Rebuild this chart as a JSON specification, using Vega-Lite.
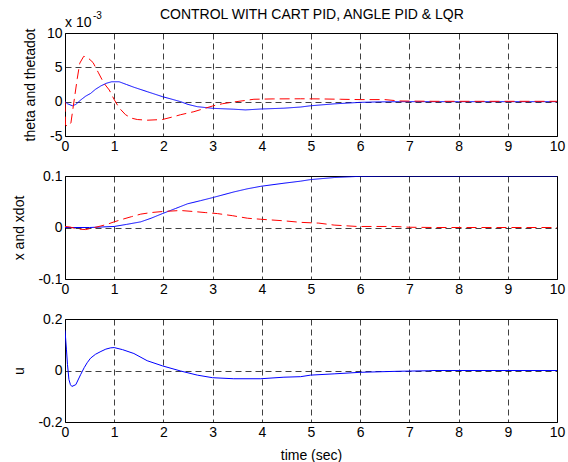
{
  "$schema": "https://vega.github.io/schema/vega-lite/v6.json",
  "background": "white",
  "padding": {"left": 12, "top": 8, "right": 5, "bottom": 2},
  "title": {"text": "CONTROL WITH CART PID, ANGLE PID & LQR", "font": "Liberation Sans", "fontSize": 14, "fontWeight": "normal", "color": "black", "anchor": "middle", "offset": -12, "dx": 23},
  "datasets": {
    "theta": [
      {"t":0,"series":"theta","value":0},{"t":0.05,"series":"theta","value":-0.0003},{"t":0.15,"series":"theta","value":-0.0006},{"t":0.22,"series":"theta","value":-0.0004},{"t":0.32,"series":"theta","value":0.00025},{"t":0.42,"series":"theta","value":0.0008},{"t":0.52,"series":"theta","value":0.0012},{"t":0.62,"series":"theta","value":0.0018},{"t":0.73,"series":"theta","value":0.0023},{"t":0.85,"series":"theta","value":0.0027},{"t":0.95,"series":"theta","value":0.0029},{"t":1.1,"series":"theta","value":0.0029},{"t":1.25,"series":"theta","value":0.0025},{"t":1.4,"series":"theta","value":0.0021},{"t":1.67,"series":"theta","value":0.00146},{"t":1.98,"series":"theta","value":0.00073},{"t":2.15,"series":"theta","value":0.0004},{"t":2.35,"series":"theta","value":0},{"t":2.5,"series":"theta","value":-0.0004},{"t":2.69,"series":"theta","value":-0.00073},{"t":3.0,"series":"theta","value":-0.00097},{"t":3.43,"series":"theta","value":-0.0011},{"t":3.67,"series":"theta","value":-0.0012},{"t":3.98,"series":"theta","value":-0.00107},{"t":4.45,"series":"theta","value":-0.00095},{"t":4.79,"series":"theta","value":-0.00078},{"t":4.99,"series":"theta","value":-0.0006},{"t":5.47,"series":"theta","value":-0.00032},{"t":6.0,"series":"theta","value":-0.0001},{"t":6.4,"series":"theta","value":-0.00003},{"t":6.8,"series":"theta","value":0},{"t":8,"series":"theta","value":0},{"t":10,"series":"theta","value":0},
      {"t":0,"series":"thetadot","value":0},{"t":0.01,"series":"thetadot","value":-0.0034},{"t":0.06,"series":"thetadot","value":-0.0036},{"t":0.12,"series":"thetadot","value":-0.0031},{"t":0.25,"series":"thetadot","value":0.0034},{"t":0.3,"series":"thetadot","value":0.0056},{"t":0.38,"series":"thetadot","value":0.0066},{"t":0.45,"series":"thetadot","value":0.0065},{"t":0.57,"series":"thetadot","value":0.0057},{"t":0.68,"series":"thetadot","value":0.0042},{"t":0.79,"series":"thetadot","value":0.0027},{"t":0.9,"series":"thetadot","value":0.0017},{"t":1.0,"series":"thetadot","value":0.0003},{"t":1.1,"series":"thetadot","value":-0.0009},{"t":1.23,"series":"thetadot","value":-0.0019},{"t":1.35,"series":"thetadot","value":-0.0024},{"t":1.47,"series":"thetadot","value":-0.0026},{"t":1.67,"series":"thetadot","value":-0.0027},{"t":1.98,"series":"thetadot","value":-0.0026},{"t":2.2,"series":"thetadot","value":-0.0022},{"t":2.35,"series":"thetadot","value":-0.0019},{"t":2.62,"series":"thetadot","value":-0.00146},{"t":3.0,"series":"thetadot","value":-0.00063},{"t":3.2,"series":"thetadot","value":-0.0003},{"t":3.43,"series":"thetadot","value":-0.00005},{"t":3.84,"series":"thetadot","value":0.00035},{"t":4.23,"series":"thetadot","value":0.0004},{"t":4.79,"series":"thetadot","value":0.00042},{"t":5.2,"series":"thetadot","value":0.0004},{"t":5.6,"series":"thetadot","value":0.00035},{"t":6.0,"series":"thetadot","value":0.0003},{"t":6.5,"series":"thetadot","value":0.0003},{"t":6.8,"series":"thetadot","value":0.0001},{"t":7.5,"series":"thetadot","value":0.00005},{"t":10,"series":"thetadot","value":0.00005}
    ],
    "x": [
      {"t":0,"series":"x","value":0},{"t":0.5,"series":"x","value":0},{"t":1.0,"series":"x","value":0.002},{"t":1.25,"series":"x","value":0.006},{"t":1.54,"series":"x","value":0.011},{"t":1.75,"series":"x","value":0.018},{"t":1.98,"series":"x","value":0.027},{"t":2.25,"series":"x","value":0.037},{"t":2.49,"series":"x","value":0.046},{"t":2.75,"series":"x","value":0.052},{"t":3.0,"series":"x","value":0.058},{"t":3.43,"series":"x","value":0.069},{"t":3.7,"series":"x","value":0.075},{"t":3.98,"series":"x","value":0.08},{"t":4.45,"series":"x","value":0.086},{"t":4.79,"series":"x","value":0.09},{"t":4.99,"series":"x","value":0.093},{"t":5.47,"series":"x","value":0.097},{"t":6.0,"series":"x","value":0.0994},{"t":6.5,"series":"x","value":0.0999},{"t":7,"series":"x","value":0.1},{"t":10,"series":"x","value":0.1},
      {"t":0,"series":"xdot","value":0.002},{"t":0.1,"series":"xdot","value":0.001},{"t":0.25,"series":"xdot","value":-0.003},{"t":0.42,"series":"xdot","value":-0.004},{"t":0.6,"series":"xdot","value":0},{"t":0.73,"series":"xdot","value":0.003},{"t":0.85,"series":"xdot","value":0.006},{"t":1.0,"series":"xdot","value":0.011},{"t":1.17,"series":"xdot","value":0.016},{"t":1.35,"series":"xdot","value":0.021},{"t":1.54,"series":"xdot","value":0.026},{"t":1.75,"series":"xdot","value":0.029},{"t":1.98,"series":"xdot","value":0.031},{"t":2.35,"series":"xdot","value":0.033},{"t":2.62,"series":"xdot","value":0.031},{"t":2.85,"series":"xdot","value":0.029},{"t":3.1,"series":"xdot","value":0.027},{"t":3.4,"series":"xdot","value":0.023},{"t":3.71,"series":"xdot","value":0.018},{"t":3.98,"series":"xdot","value":0.016},{"t":4.45,"series":"xdot","value":0.013},{"t":4.79,"series":"xdot","value":0.01},{"t":5.16,"series":"xdot","value":0.0085},{"t":5.47,"series":"xdot","value":0.0047},{"t":5.94,"series":"xdot","value":0.002},{"t":6.69,"series":"xdot","value":0.002},{"t":7.0,"series":"xdot","value":0.0005},{"t":7.5,"series":"xdot","value":0},{"t":10,"series":"xdot","value":0}
    ],
    "u": [
      {"t":0,"series":"u","value":0.156},{"t":0.03,"series":"u","value":0.08},{"t":0.05,"series":"u","value":0.024},{"t":0.08,"series":"u","value":-0.035},{"t":0.11,"series":"u","value":-0.055},{"t":0.14,"series":"u","value":-0.062},{"t":0.22,"series":"u","value":-0.055},{"t":0.32,"series":"u","value":-0.015},{"t":0.39,"series":"u","value":0.011},{"t":0.45,"series":"u","value":0.03},{"t":0.52,"series":"u","value":0.048},{"t":0.62,"series":"u","value":0.063},{"t":0.73,"series":"u","value":0.074},{"t":0.83,"series":"u","value":0.083},{"t":0.93,"series":"u","value":0.088},{"t":1.0,"series":"u","value":0.089},{"t":1.17,"series":"u","value":0.081},{"t":1.4,"series":"u","value":0.066},{"t":1.67,"series":"u","value":0.038},{"t":1.98,"series":"u","value":0.018},{"t":2.35,"series":"u","value":-0.002},{"t":2.69,"series":"u","value":-0.018},{"t":3.0,"series":"u","value":-0.028},{"t":3.43,"series":"u","value":-0.032},{"t":3.98,"series":"u","value":-0.032},{"t":4.45,"series":"u","value":-0.026},{"t":4.79,"series":"u","value":-0.024},{"t":4.99,"series":"u","value":-0.018},{"t":5.47,"series":"u","value":-0.013},{"t":6.0,"series":"u","value":-0.007},{"t":6.77,"series":"u","value":-0.003},{"t":7.38,"series":"u","value":-0.001},{"t":7.5,"series":"u","value":0},{"t":10,"series":"u","value":0}
    ]
  },
  "vconcat": [
    {
      "width": 492, "height": 103,
      "encoding": {
        "x": {"field": "t", "type": "quantitative", "scale": {"domain": [0, 10], "nice": false}, "axis": {"values": [0,1,2,3,4,5,6,7,8,9,10], "title": null}},
        "y": {"field": "value", "type": "quantitative", "scale": {"domain": [-0.005, 0.01], "nice": false, "zero": false}, "axis": {"values": [-0.005, 0, 0.005, 0.01], "labelExpr": "datum.value < 0 ? '-' + format(-datum.value*1000, 'd') : format(datum.value*1000, 'd')", "title": "theta and thetadot", "titlePadding": 9}}
      },
      "layer": [
        {
          "data": {"name": "theta"},
          "mark": {"type": "line", "strokeWidth": 1, "clip": true},
          "encoding": {
            "color": {"field": "series", "type": "nominal", "scale": {"domain": ["theta", "thetadot"], "range": ["#0000ff", "#ff0000"]}, "legend": null},
            "strokeDash": {"field": "series", "type": "nominal", "scale": {"domain": ["theta", "thetadot"], "range": [[1, 0], [10, 5]]}, "legend": null}
          }
        },
        {
          "data": {"values": [{"label": "x 10", "t": 0, "value": 0.0109}]},
          "mark": {"type": "text", "align": "left", "baseline": "alphabetic", "font": "Liberation Sans", "fontSize": 14, "color": "black"},
          "encoding": {"text": {"field": "label"}}
        },
        {
          "data": {"values": [{"label": "-3", "t": 0.57, "value": 0.0121}]},
          "mark": {"type": "text", "align": "left", "baseline": "alphabetic", "font": "Liberation Sans", "fontSize": 10, "color": "black"},
          "encoding": {"text": {"field": "label"}}
        }
      ]
    },
    {
      "width": 492, "height": 103,
      "data": {"name": "x"},
      "mark": {"type": "line", "strokeWidth": 1, "clip": true},
      "encoding": {
        "x": {"field": "t", "type": "quantitative", "scale": {"domain": [0, 10], "nice": false}, "axis": {"values": [0,1,2,3,4,5,6,7,8,9,10], "title": null}},
        "y": {"field": "value", "type": "quantitative", "scale": {"domain": [-0.1, 0.1], "nice": false}, "axis": {"values": [-0.1, 0, 0.1], "labelExpr": "datum.value == 0 ? '0' : (datum.value < 0 ? '-' : '') + format(abs(datum.value), '.1f')", "title": "x and xdot", "titlePadding": 11}},
        "color": {"field": "series", "type": "nominal", "scale": {"domain": ["x", "xdot"], "range": ["#0000ff", "#ff0000"]}, "legend": null},
        "strokeDash": {"field": "series", "type": "nominal", "scale": {"domain": ["x", "xdot"], "range": [[1, 0], [10, 5]]}, "legend": null}
      }
    },
    {
      "width": 492, "height": 103,
      "data": {"name": "u"},
      "mark": {"type": "line", "strokeWidth": 1, "clip": true, "color": "#0000ff"},
      "encoding": {
        "x": {"field": "t", "type": "quantitative", "scale": {"domain": [0, 10], "nice": false}, "axis": {"values": [0,1,2,3,4,5,6,7,8,9,10], "title": "time (sec)"}},
        "y": {"field": "value", "type": "quantitative", "scale": {"domain": [-0.2, 0.2], "nice": false}, "axis": {"values": [-0.2, 0, 0.2], "labelExpr": "datum.value == 0 ? '0' : (datum.value < 0 ? '-' : '') + format(abs(datum.value), '.1f')", "title": "u", "titlePadding": 11}}
      }
    }
  ],
  "spacing": 40,
  "bounds": "flush",
  "config": {
    "view": {"stroke": "black", "strokeWidth": 1},
    "axis": {"labelFont": "Liberation Sans", "labelFontSize": 14, "labelColor": "black", "titleFont": "Liberation Sans", "titleFontSize": 14, "titleFontWeight": "normal", "titleColor": "black", "domain": false, "ticks": false, "labelPadding": 3, "titlePadding": 9, "grid": true, "gridColor": "black", "gridDash": [6, 4], "gridOpacity": 0.75, "gridWidth": 1, "labelFlush": false, "labelOverlap": false}
  }
}
